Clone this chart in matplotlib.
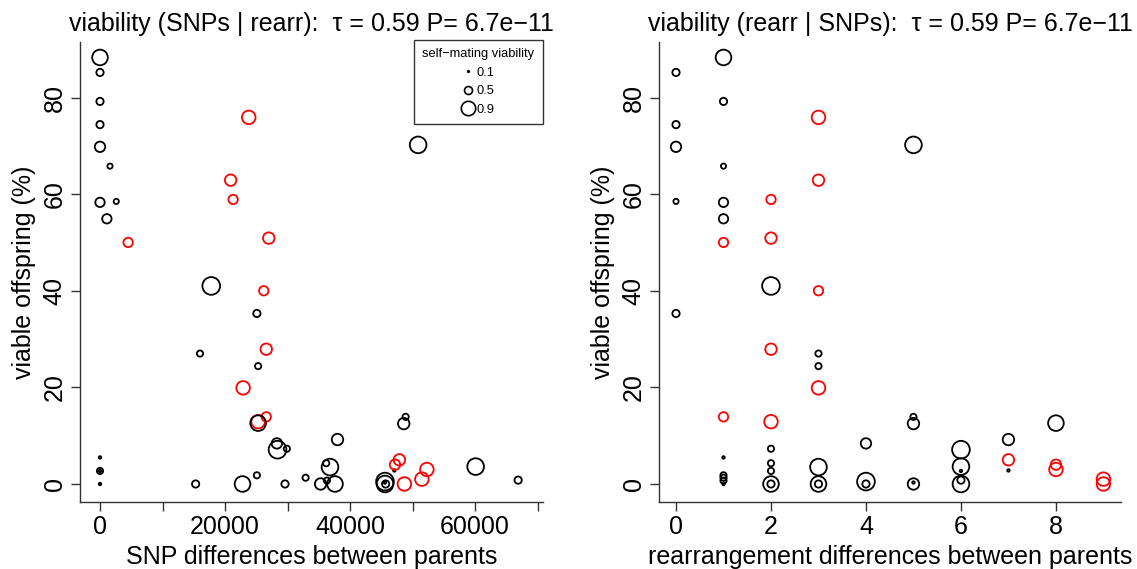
import matplotlib
matplotlib.use('Agg')
import matplotlib.pyplot as plt
from matplotlib.lines import Line2D

plt.rcParams['font.family'] = ['Liberation Sans', 'DejaVu Sans']

# one entry per cross, same points in both panels
snp_diff = [0, 0, 0, 0, 0, 50900, 1600, 2600, 0, 1100,
            4500, 23800, 20900, 21300, 27000, 17800, 26200, 25100, 26600, 16000,
            25300, 22900, 26600, 25300, 25300, 48900, 48600, 38000, 28300, 28400,
            29900, 0, 36200, 36800, 60100, 0, 0, 47100, 47900, 47200,
            52300, 51500, 48700, 25100, 32900, 36300, 0, 15300, 22800, 29600,
            37600, 45600, 45700, 35300, 45600, 45600, 66900]
rearr_diff = [1, 0, 1, 0, 0, 5, 1, 0, 1, 1,
              1, 3, 3, 2, 2, 2, 3, 0, 2, 3,
              3, 3, 1, 2, 8, 5, 5, 7, 4, 6,
              2, 1, 2, 3, 6, 2, 6, 7, 7, 8,
              8, 9, 9, 1, 1, 1, 1, 2, 2, 3,
              3, 4, 4, 5, 5, 6, 6]
viable = [88.3, 85.2, 79.2, 74.4, 69.8, 70.2, 65.8, 58.5, 58.3, 54.9,
          50.0, 75.9, 62.9, 58.9, 50.9, 41.0, 40.0, 35.3, 27.9, 27.0,
          24.4, 19.9, 13.9, 12.9, 12.6, 13.9, 12.5, 9.2, 8.4, 7.1,
          7.3, 5.5, 4.3, 3.5, 3.6, 2.7, 2.7, 2.8, 5.0, 4.0,
          3.0, 1.0, 0.0, 1.8, 1.3, 0.7, 0.0, 0.0, 0.0, 0.0,
          0.0, 0.5, 0.0, 0.0, 0.3, 0.0, 0.8]
self_viab = [0.75, 0.35, 0.35, 0.35, 0.5, 0.8, 0.25, 0.25, 0.45, 0.45,
             0.45, 0.65, 0.55, 0.45, 0.55, 0.85, 0.45, 0.35, 0.55, 0.3,
             0.3, 0.65, 0.45, 0.65, 0.75, 0.3, 0.55, 0.55, 0.5, 0.85,
             0.3, 0.12, 0.3, 0.8, 0.8, 0.3, 0.12, 0.12, 0.55, 0.5,
             0.65, 0.65, 0.65, 0.3, 0.3, 0.3, 0.12, 0.35, 0.75, 0.35,
             0.75, 0.85, 0.35, 0.55, 0.12, 0.8, 0.35]
highlight = [0, 0, 0, 0, 0, 0, 0, 0, 0, 0,
             1, 1, 1, 1, 1, 0, 1, 0, 1, 0,
             0, 1, 1, 1, 0, 0, 0, 0, 0, 0,
             0, 0, 0, 0, 0, 0, 0, 0, 1, 1,
             1, 1, 1, 0, 0, 0, 0, 0, 0, 0,
             0, 0, 0, 0, 0, 0, 0]

legend_vals = [0.1, 0.5, 0.9]

W, H = 1137, 569
fig = plt.figure(figsize=(W / 100, H / 100), dpi=100)

colors = ['red' if h else 'black' for h in highlight]
sizes = [(15 * v) ** 2 for v in self_viab]
FS = 18


def style(ax):
    for s in ['top', 'right']:
        ax.spines[s].set_visible(False)
    for s in ['left', 'bottom']:
        ax.spines[s].set_color('#333333')
        ax.spines[s].set_linewidth(1.0)
    ax.tick_params(length=6.5, width=1.0, color='#333333', labelsize=FS, pad=3)
    ax.set_yticks([0, 20, 40, 60, 80])
    for lab in ax.get_yticklabels():
        lab.set_rotation(90)
        lab.set_va('center')
    ax.set_ylim(-3.73, 91.5)
    ax.set_ylabel('viable offspring (%)', fontsize=FS, labelpad=5)


ax1 = fig.add_axes([80 / W, 1 - 502 / H, 463 / W, 460 / H])
ax1.scatter(snp_diff, viable, s=sizes, facecolors='none', edgecolors=colors, linewidths=1.3)
ax1.set_xlim(-3200, 70880)
ax1.set_xticks(range(0, 80000, 10000))
ax1.set_xticklabels(['0', '', '20000', '', '40000', '', '60000', ''])
style(ax1)
ax1.set_xlabel('SNP differences between parents', fontsize=FS, labelpad=4)
ax1.set_title('viability (SNPs | rearr):  \u03c4 = 0.59 P= 6.7e\u221211', fontsize=FS, pad=8)

handles = [Line2D([], [], ls='none', marker='o', mfc='none', mec='black', mew=1.2,
                  ms=11.5 * v) for v in legend_vals]
leg = ax1.legend(handles, [str(v) for v in legend_vals], title='self\u2212mating viability',
                 loc='upper right', bbox_to_anchor=(1.0, 1.005), borderaxespad=0,
                 fontsize=9.3, title_fontsize=9.3, frameon=True, fancybox=False,
                 edgecolor='black', handlelength=0.8, handletextpad=0.2,
                 labelspacing=0.5, borderpad=0.65)
leg.get_frame().set_linewidth(1.0)

ax2 = fig.add_axes([659 / W, 1 - 502 / H, 462 / W, 460 / H])
ax2.scatter(rearr_diff, viable, s=sizes, facecolors='none', edgecolors=colors, linewidths=1.3)
ax2.set_xlim(-0.358, 9.37)
ax2.set_xticks([0, 2, 4, 6, 8])
style(ax2)
ax2.set_xlabel('rearrangement differences between parents', fontsize=FS, labelpad=4)
ax2.set_title('viability (rearr | SNPs):  \u03c4 = 0.59 P= 6.7e\u221211', fontsize=FS, pad=8)

fig.savefig('out.png', dpi=100)
